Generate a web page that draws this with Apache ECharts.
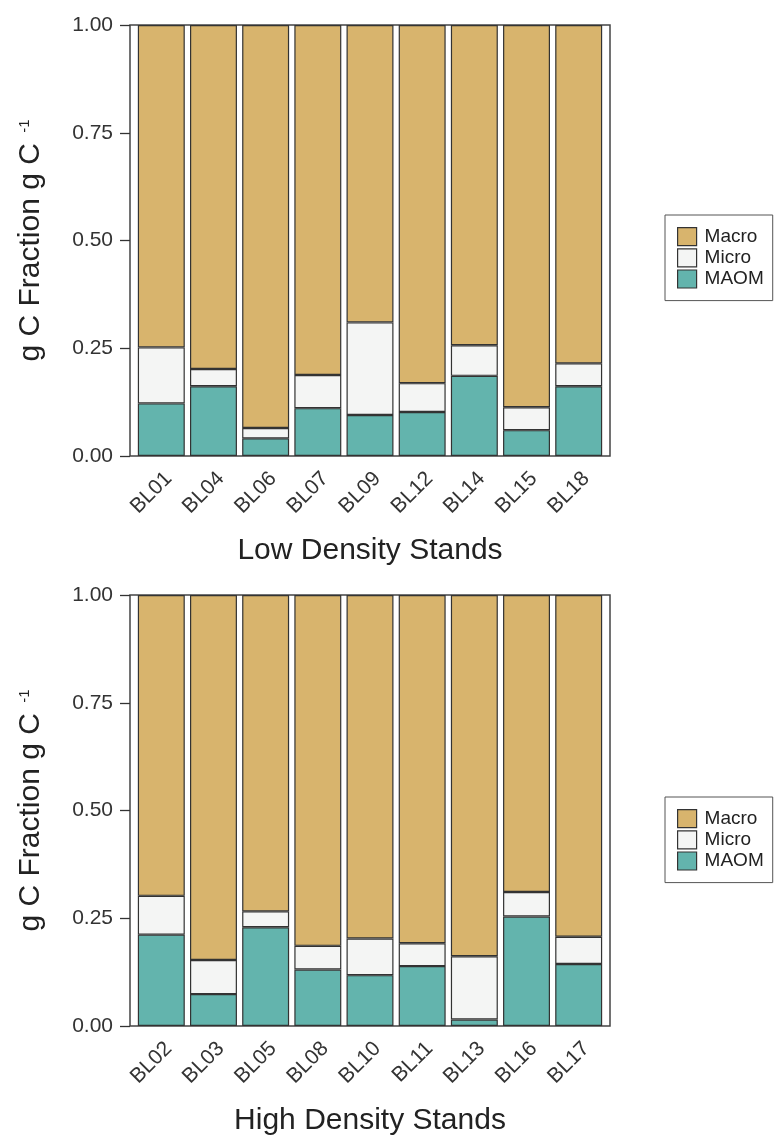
<!DOCTYPE html>
<html>
<head>
<meta charset="utf-8">
<script src="https://cdn.jsdelivr.net/npm/echarts@6/dist/echarts.min.js"></script>
<style>
  html, body { margin: 0; padding: 0; background: #ffffff; }
  #chart { width: 775px; height: 1137px; }
</style>
</head>
<body>
<div id="chart"></div>
<script>
// Stand names for each density class
const lowStands  = ['BL01', 'BL04', 'BL06', 'BL07', 'BL09', 'BL12', 'BL14', 'BL15', 'BL18'];
const highStands = ['BL02', 'BL03', 'BL05', 'BL08', 'BL10', 'BL11', 'BL13', 'BL16', 'BL17'];

// Fraction of carbon in each pool (g C fraction per g C)
const lowMAOM   = [0.122, 0.162, 0.041, 0.111, 0.095, 0.102, 0.186, 0.060, 0.162];
const lowMicro  = [0.130, 0.040, 0.024, 0.077, 0.215, 0.067, 0.071, 0.053, 0.053];
const lowMacro  = [0.748, 0.798, 0.935, 0.812, 0.690, 0.831, 0.743, 0.887, 0.785];

const highMAOM  = [0.212, 0.074, 0.229, 0.131, 0.118, 0.139, 0.015, 0.254, 0.144];
const highMicro = [0.090, 0.079, 0.037, 0.055, 0.085, 0.053, 0.147, 0.057, 0.063];
const highMacro = [0.698, 0.847, 0.734, 0.814, 0.797, 0.808, 0.838, 0.689, 0.793];

const yTicks = [0, 0.25, 0.5, 0.75, 1];

const FONT = "'Liberation Sans', Arial, Helvetica, sans-serif";
const COLORS = { Macro: '#D8B46D', Micro: '#F4F5F4', MAOM: '#63B4AD' };
const EDGE = '#333333';

// Panel geometry: frame grid (border + y axis) and an inset grid for the bars
const panels = [
  { top: 25,  stands: lowStands,  maom: lowMAOM,  micro: lowMicro,  macro: lowMacro,  title: 'Low Density Stands',  legendTop: 215 },
  { top: 595, stands: highStands, maom: highMAOM, micro: highMicro, macro: highMacro, title: 'High Density Stands', legendTop: 797 }
];
const FRAME_LEFT = 130, FRAME_W = 480, PANEL_H = 431;
const INSET = FRAME_W * 0.1 / 9.2;

const grid = [], xAxis = [], yAxis = [], series = [], legend = [];

panels.forEach((p, i) => {
  const fi = i * 2, bi = i * 2 + 1;
  // frame grid
  grid.push({ left: FRAME_LEFT, top: p.top, width: FRAME_W, height: PANEL_H,
              show: true, borderColor: '#444', borderWidth: 1.5, backgroundColor: '#fff', z: 0 });
  // bar grid
  grid.push({ left: FRAME_LEFT + INSET, top: p.top, width: FRAME_W - 2 * INSET, height: PANEL_H });

  xAxis.push({ gridIndex: fi, type: 'value', show: false, min: 0, max: 1 });
  yAxis.push({
    gridIndex: fi, type: 'value', min: yTicks[0], max: yTicks[yTicks.length - 1], interval: 0.25,
    axisLine: { show: false },
    axisTick: { show: true, length: 10, lineStyle: { color: EDGE, width: 1.3 } },
    splitLine: { show: false },
    axisLabel: { fontFamily: FONT, fontSize: 21, color: '#333', margin: 17,
                 formatter: v => v.toFixed(2) },
    name: 'g C Fraction g C {sup|-1}',
    nameLocation: 'middle',
    nameGap: 82,
    nameTextStyle: {
      fontFamily: FONT, fontSize: 30, color: '#222', lineHeight: 34,
      rich: { sup: { fontFamily: FONT, fontSize: 15, color: '#222', verticalAlign: 'middle', lineHeight: 15, padding: [0, 0, 12, 2] } }
    }
  });

  xAxis.push({
    gridIndex: bi, type: 'category', data: p.stands,
    axisLine: { show: false }, axisTick: { show: false },
    axisLabel: { fontFamily: FONT, fontSize: 21, color: '#333', rotate: 45, margin: 12,
                 verticalAlign: 'top', interval: 0 },
    name: p.title, nameLocation: 'middle', nameGap: 80,
    nameTextStyle: { fontFamily: FONT, fontSize: 30, color: '#222' }
  });
  yAxis.push({ gridIndex: bi, type: 'value', min: 0, max: 1, show: false });

  const parts = [['MAOM', p.maom], ['Micro', p.micro], ['Macro', p.macro]];
  parts.forEach(([name, vals]) => {
    series.push({
      name, type: 'bar', stack: 'pool' + i, xAxisIndex: bi, yAxisIndex: bi,
      data: vals, barWidth: '90%',
      itemStyle: { color: COLORS[name], borderColor: EDGE, borderWidth: 1.2 },
      emphasis: { disabled: true }
    });
  });

  legend.push({
    orient: 'vertical', left: 665, top: p.legendTop,
    data: ['Macro', 'Micro', 'MAOM'],
    icon: 'rect',
    itemWidth: 19, itemHeight: 18, itemGap: 2,
    padding: [12, 9, 12, 12],
    borderColor: '#555', borderWidth: 1,
    itemStyle: { borderColor: EDGE, borderWidth: 1.2 },
    textStyle: { fontFamily: FONT, fontSize: 19, color: '#222', lineHeight: 18, padding: [0, 0, 0, 3] },
    selectedMode: false
  });
});

const chart = echarts.init(document.getElementById('chart'), null, { renderer: 'canvas' });
chart.setOption({ animation: false, backgroundColor: '#ffffff', grid, xAxis, yAxis, series, legend });
</script>
</body>
</html>
